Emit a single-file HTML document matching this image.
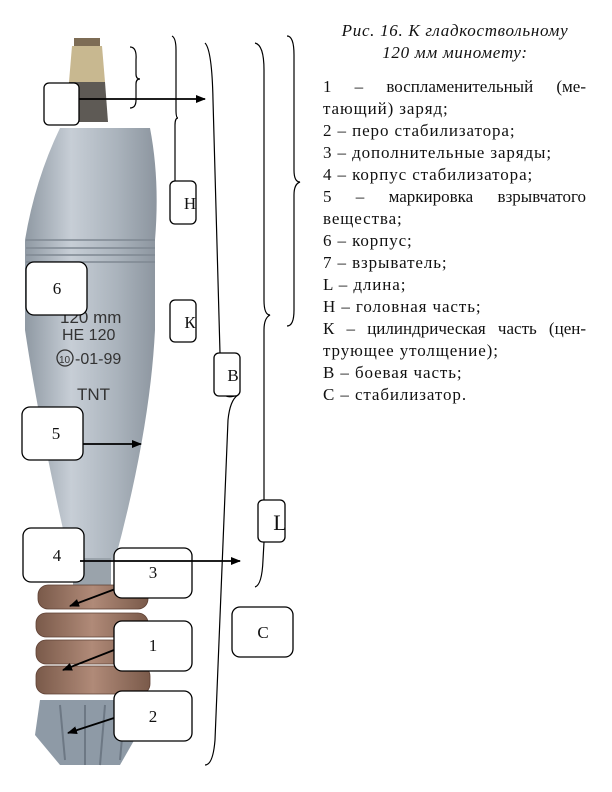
<!DOCTYPE html>
<html><head><meta charset="utf-8"><style>
html,body{margin:0;padding:0;background:#fff;}
body{width:612px;height:792px;position:relative;overflow:hidden;font-family:"Liberation Serif",serif;}
.t{position:absolute;left:323px;width:263px;font-size:17px;letter-spacing:0.9px;line-height:22px;color:#111;}
.j{text-align:justify;text-align-last:justify;letter-spacing:0;}
.title{position:absolute;left:318px;width:274px;top:20px;text-align:center;font-style:italic;font-size:17px;letter-spacing:0.7px;line-height:22px;color:#111;}
</style></head><body>
<svg width="612" height="792" style="position:absolute;left:0;top:0">
<defs>
<linearGradient id="bg" x1="0" x2="1"><stop offset="0" stop-color="#8f99a3"/><stop offset="0.35" stop-color="#c7ced6"/><stop offset="0.7" stop-color="#aab3bc"/><stop offset="1" stop-color="#8c959f"/></linearGradient>
<linearGradient id="cg" x1="0" x2="1"><stop offset="0" stop-color="#7a5a4a"/><stop offset="0.5" stop-color="#b08a78"/><stop offset="1" stop-color="#7a5a4a"/></linearGradient>
<marker id="ah" markerWidth="10" markerHeight="8" refX="9" refY="4" orient="auto" markerUnits="userSpaceOnUse"><path d="M0,0 L10,4 L0,8Z" fill="#000"/></marker>
</defs>
<rect x="74" y="38" width="26" height="9" fill="#7d6c55"/>
<path d="M72,46 L102,46 L105,82 L69,82Z" fill="#c8b890"/>
<path d="M69,82 L105,82 L108,122 L67,122Z" fill="#5e5a55"/>
<path d="M60,128 L150,128 Q160,180 155,240 L155,330 Q150,430 115,560 L70,560 Q40,430 25,330 L25,240 Q35,180 60,128Z" fill="url(#bg)"/>
<path d="M26,240 L155,240 M26,248 L155,248 M26,255 L155,255 M26,262 L155,262" stroke="#7f8892" stroke-width="1.5"/>
<text x="60" y="323" font-family="Liberation Sans,sans-serif" font-size="17" fill="#333">120 mm</text>
<text x="62" y="340" font-family="Liberation Sans,sans-serif" font-size="16" fill="#333">HE 120</text>
<circle cx="65" cy="358" r="8" fill="none" stroke="#333" stroke-width="1.3"/>
<text x="59" y="363" font-family="Liberation Sans,sans-serif" font-size="10" fill="#333">10</text>
<text x="75" y="364" font-family="Liberation Sans,sans-serif" font-size="16" fill="#333">-01-99</text>
<text x="77" y="400" font-family="Liberation Sans,sans-serif" font-size="17" fill="#333">TNT</text>
<rect x="73" y="558" width="38" height="40" fill="#9aa3ab"/>
<g fill="url(#cg)" stroke="#5e4034" stroke-width="0.8">
<rect x="38" y="585" width="110" height="24" rx="10"/>
<rect x="36" y="613" width="112" height="24" rx="10"/>
<rect x="36" y="640" width="112" height="24" rx="10"/>
<rect x="36" y="666" width="114" height="28" rx="10"/>
</g>
<path d="M40,700 L145,700 L140,730 L120,765 L60,765 L35,735Z" fill="#8e9aa6"/>
<path d="M60,705 L65,760 M85,705 L85,765 M105,705 L100,765 M125,705 L120,760" stroke="#6d7884" stroke-width="2"/>
<g fill="none" stroke="#000" stroke-width="1.2">
<path d="M130,47 Q137,47 136,60 L136,74 Q136,79 140,79 Q136,79 136,84 L136,100 Q136,108 130,108"/>
<path d="M172,36 Q176,38 176,50 L176,110 Q176,118 178,118 Q175,118 175,125 L175,181"/>
<path d="M205,43 Q212,50 213,100 L220,353"/>
<path d="M226,396 Q230,398 238,395 Q230,400 228,420 L215,740 Q213,765 205,765"/>
<path d="M255,43 Q264,45 264,70 L264,300 Q264,315 270,315 Q264,318 264,330 L264,500"/>
<path d="M264,542 L263,560 Q262,585 255,587"/>
<path d="M287,36 Q294,36 294,55 L294,170 Q294,182 300,182 Q294,184 294,195 L294,310 Q294,326 287,326"/>
</g>
<g stroke="#000" stroke-width="1.8" marker-end="url(#ah)">
<line x1="79" y1="99" x2="205" y2="99"/>
<line x1="80" y1="444" x2="141" y2="444"/>
<line x1="118" y1="588" x2="70" y2="606"/>
<line x1="114" y1="650" x2="63" y2="670"/>
<line x1="114" y1="718" x2="68" y2="733"/>
</g>
<g fill="#fff" stroke="#000" stroke-width="1.3">
<rect x="44" y="83" width="35" height="42" rx="5"/>
<rect x="170" y="181" width="26" height="43" rx="5"/>
<rect x="26" y="262" width="61" height="53" rx="8"/>
<rect x="170" y="300" width="26" height="42" rx="5"/>
<rect x="214" y="353" width="26" height="43" rx="5"/>
<rect x="22" y="407" width="61" height="53" rx="8"/>
<rect x="258" y="500" width="27" height="42" rx="5"/>
<rect x="23" y="528" width="61" height="54" rx="8"/>
<rect x="114" y="548" width="78" height="50" rx="8"/>
<rect x="232" y="607" width="61" height="50" rx="8"/>
<rect x="114" y="621" width="78" height="50" rx="8"/>
<rect x="114" y="691" width="78" height="50" rx="8"/>
</g>
<line x1="80" y1="561" x2="240" y2="561" stroke="#000" stroke-width="1.8" marker-end="url(#ah)"/>
<g font-family="Liberation Serif,serif" font-size="17" fill="#111" text-anchor="middle">
<text x="190" y="209">Н</text>
<text x="57" y="294">6</text>
<text x="190" y="328">К</text>
<text x="233" y="381">В</text>
<text x="56" y="439">5</text>
<text x="280" y="530" font-size="22">L</text>
<text x="57" y="561">4</text>
<text x="153" y="578">3</text>
<text x="263" y="638">С</text>
<text x="153" y="651">1</text>
<text x="153" y="722">2</text>
</g>
</svg>
<div class="title">Рис. 16. К гладкоствольному<br>120 мм миномету:</div>
<div class="t" style="top:76px">
<div class="j">1 – воспламенительный (ме-</div>
<div>тающий) заряд;</div>
<div>2 – перо стабилизатора;</div>
<div>3 – дополнительные заряды;</div>
<div>4 – корпус стабилизатора;</div>
<div class="j">5 – маркировка взрывчатого</div>
<div>вещества;</div>
<div>6 – корпус;</div>
<div>7 – взрыватель;</div>
<div>L – длина;</div>
<div>Н – головная часть;</div>
<div class="j">К – цилиндрическая часть (цен-</div>
<div>трующее утолщение);</div>
<div>В – боевая часть;</div>
<div>С – стабилизатор.</div>
</div>
</body></html>
